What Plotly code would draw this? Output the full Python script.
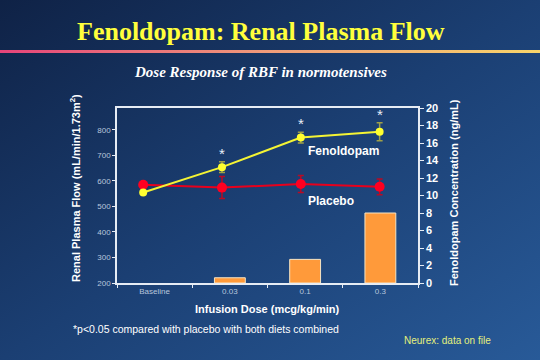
import base64
import plotly.graph_objects as go

# ---- data ----
doses = ["Baseline", "0.03", "0.1", "0.3"]
fenoldopam_rpf = [555, 654, 770, 793]
fenoldopam_err = [0, 21, 21, 35]
placebo_rpf = [585, 574, 588, 577]
placebo_err = [0, 43, 33, 31]
conc_doses = ["0.03", "0.1", "0.3"]
fenoldopam_conc = [0.6, 2.7, 8.0]
significant = [False, True, True, True]
left_ticks = [200, 300, 400, 500, 600, 700, 800]
right_ticks = [0, 2, 4, 6, 8, 10, 12, 14, 16, 18, 20]

# ---- layout geometry ----
W, H = 540, 360
L, R, T, B = 117, 122, 108, 77
PW, PH = W - L - R, H - T - B


def px(x, y):
    return (x - L) / PW, 1 - (y - T) / PH


bg_svg = (
    '<svg xmlns="http://www.w3.org/2000/svg" width="540" height="360">'
    '<defs><linearGradient id="g" x1="0" y1="0" x2="1" y2="1">'
    '<stop offset="0" stop-color="#0f2246"/><stop offset="0.5" stop-color="#1b3f73"/>'
    '<stop offset="1" stop-color="#285a98"/></linearGradient>'
    '<linearGradient id="s" x1="0" y1="0" x2="1" y2="0">'
    '<stop offset="0" stop-color="#e6447a"/><stop offset="0.5" stop-color="#f09c7a"/>'
    '<stop offset="1" stop-color="#f8d46a"/></linearGradient></defs>'
    '<rect width="540" height="360" fill="url(#g)"/>'
    '<rect y="50" width="540" height="3" fill="url(#s)"/></svg>'
)
bg_uri = "data:image/svg+xml;base64," + base64.b64encode(bg_svg.encode()).decode()

fig = go.Figure()

fig.add_trace(go.Bar(
    x=conc_doses, y=fenoldopam_conc, xaxis="x", yaxis="y2", width=0.41,
    marker=dict(color="#ff9a3a", line=dict(color="#f6e4c4", width=1)),
    name="Fenoldopam concentration", showlegend=False,
))

idx = list(range(len(doses)))
fig.add_trace(go.Scatter(
    x=idx, y=placebo_rpf, xaxis="x2", yaxis="y", mode="lines+markers",
    line=dict(color="#e8001c", width=2), marker=dict(color="#ff0020", size=10),
    error_y=dict(type="data", array=placebo_err, color="#b80a24", thickness=1.5, width=3),
    name="Placebo", showlegend=False,
))
fig.add_trace(go.Scatter(
    x=idx, y=fenoldopam_rpf, xaxis="x2", yaxis="y", mode="lines+markers",
    line=dict(color="#f4f434", width=2), marker=dict(color="#ffff30", size=8),
    error_y=dict(type="data", array=fenoldopam_err, color="#a0a048", thickness=1.5, width=3),
    name="Fenoldopam", showlegend=False,
))

annotations = []
for i, sig in enumerate(significant):
    if sig:
        annotations.append(dict(
            x=idx[i], y=fenoldopam_rpf[i] + fenoldopam_err[i], xref="x2", yref="y",
            text="*", showarrow=False, yanchor="bottom", yshift=-2,
            font=dict(family="Liberation Sans, Arial", size=15, color="#e8eef8"),
        ))


def ann(x, y, text, size, color="white", family="Liberation Sans, Arial",
        weight="normal", style="normal", angle=0, xanchor="center"):
    ax, ay = px(x, y)
    annotations.append(dict(
        x=ax, y=ay, xref="paper", yref="paper", text=text, showarrow=False,
        xanchor=xanchor, yanchor="middle", textangle=angle,
        font=dict(family=family, size=size, color=color, weight=weight, style=style),
    ))


ann(261, 31, "Fenoldopam: Renal Plasma Flow", 26, color="#ffff3c",
    family="Liberation Serif, Times New Roman", weight="bold")
ann(260, 72, "Dose Response of RBF in normotensives", 15, color="white",
    family="Liberation Serif, Times New Roman", weight="bold", style="italic")
ann(343, 151, "Fenoldopam", 12, weight="bold")
ann(331, 201, "Placebo", 12, weight="bold")
ann(75, 188, "Renal Plasma Flow (mL/min/1.73m<sup>2</sup>)", 11, weight="bold", angle=-90)
ann(454, 192, "Fenoldopam Concentration (ng/mL)", 11, weight="bold", angle=-90)
ann(267, 309, "Infusion Dose (mcg/kg/min)", 11, weight="bold")
ann(71, 329, "*p<0.05 compared with placebo with both diets combined", 10.5, xanchor="left")
ann(402, 340, "Neurex: data on file", 10, color="#e4f07c", xanchor="left")

axis_line = "#e6ecf4"
fig.update_layout(
    width=W, height=H,
    margin=dict(l=L, r=R, t=T, b=B, autoexpand=False),
    paper_bgcolor="#1b3d70", plot_bgcolor="rgba(0,0,0,0)",
    showlegend=False, bargap=0.59,
    images=[dict(source=bg_uri, xref="paper", yref="paper",
                 x=-L / PW, y=1 + T / PH, sizex=W / PW, sizey=H / PH,
                 xanchor="left", yanchor="top", sizing="stretch", layer="below")],
    xaxis=dict(
        type="category", categoryorder="array", categoryarray=doses,
        range=[-0.5, 3.5], showline=True, mirror=True, linecolor=axis_line, linewidth=1.5,
        ticks="outside", tickson="boundaries", ticklen=3, tickcolor=axis_line,
        showgrid=False, zeroline=False,
        tickfont=dict(family="Liberation Sans, Arial", size=8, color="#b8c6dc"),
        anchor="y",
    ),
    xaxis2=dict(range=[-0.332, 3.487], overlaying="x", visible=False, anchor="y"),
    yaxis=dict(
        range=[200, 886], tickvals=left_ticks, showline=True, linecolor=axis_line, linewidth=1.5,
        ticks="outside", ticklen=3, tickcolor=axis_line, showgrid=False, zeroline=False,
        tickfont=dict(family="Liberation Sans, Arial", size=8, color="#b8c6dc"),
        anchor="x",
    ),
    yaxis2=dict(
        range=[0, 20], tickvals=right_ticks, overlaying="y", side="right", anchor="x",
        showline=True, linecolor=axis_line, linewidth=1.5,
        ticks="outside", ticklen=4, tickcolor=axis_line, showgrid=False, zeroline=False,
        tickfont=dict(family="Liberation Sans, Arial", size=11, color="white", weight="bold"),
    ),
    annotations=annotations,
)

fig.write_html(
    "out.html",
    config={"displayModeBar": False},
    post_script="document.body.style.margin='0';document.body.style.overflow='hidden';",
)
